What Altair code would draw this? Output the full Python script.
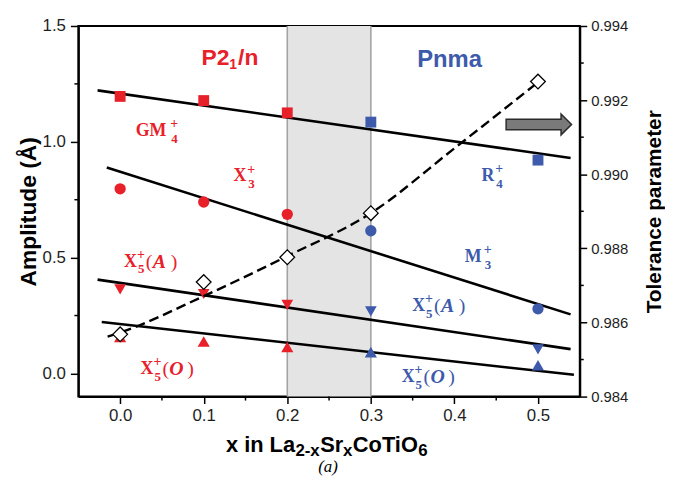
import altair as alt
import pandas as pd

# ---------------- data ----------------
x_comp = [0.0, 0.1, 0.2, 0.3, 0.5]
phase = ["P21/n", "P21/n", "P21/n", "Pnma", "Pnma"]
amp_gm4_r4 = [1.196, 1.178, 1.125, 1.085, 0.921]
amp_x3_m3 = [0.797, 0.740, 0.687, 0.616, 0.279]
amp_x5_a = [0.363, 0.343, 0.296, 0.268, 0.104]
amp_x5_o = [0.157, 0.138, 0.114, 0.092, 0.035]

tol_x = [0.0, 0.1, 0.2, 0.3, 0.5]
tol_val = [0.98568, 0.98709, 0.98776, 0.98895, 0.99250]
tolfit_x = [-0.015, 0.0, 0.1, 0.2, 0.3, 0.4, 0.5]
tolfit_val = [0.98562, 0.98573, 0.98671, 0.98779, 0.98895, 0.99070, 0.99248]

fit_mode = ["GM4/R4", "X3/M3", "X5(A)", "X5(O)"]
fit_x_start = [-0.027, -0.016, -0.027, -0.022]
fit_x_end = [0.539, 0.539, 0.539, 0.543]
fit_amp_start = [1.222, 0.889, 0.405, 0.222]
fit_amp_end = [0.930, 0.255, 0.105, -0.006]

shade_x = [0.2, 0.3]

x_major = [0.0, 0.1, 0.2, 0.3, 0.4, 0.5]
x_minor = [0.05, 0.15, 0.25, 0.35, 0.45]
amp_major = [0.0, 0.5, 1.0, 1.5]
amp_minor = [0.25, 0.75, 1.25]
tol_major = [0.984, 0.986, 0.988, 0.990, 0.992, 0.994]
tol_minor = [0.985, 0.987, 0.989, 0.991, 0.993]

modes = ["GM4/R4", "X3/M3", "X5(A)", "X5(O)"]

# ---------------- styles ----------------
RED = "#e8202a"
BLUE = "#3d5aab"
SANS = "Liberation Sans"
SERIF = "Liberation Serif"
TXT = "#1e1e1e"
W, H = 506, 374

x_scale = alt.Scale(domain=[-0.05, 0.55], nice=False, zero=False)
amp_scale = alt.Scale(domain=[-0.1, 1.5], nice=False, zero=False)
tol_scale = alt.Scale(domain=[0.984, 0.994], nice=False, zero=False)

x_axis = alt.Axis(
    orient="bottom", values=x_major, format=".1f", title=None, grid=False,
    tickSize=7, labelFontSize=17, labelFont=SANS, labelColor=TXT, labelPadding=4,
    tickColor="black", tickWidth=1.5, domainColor="black", domainWidth=2,
)
amp_axis = alt.Axis(
    orient="left", values=amp_major, format=".1f", title="Amplitude (Å)", grid=False,
    tickSize=8, labelFontSize=17, labelFont=SANS, labelColor=TXT, labelPadding=5,
    tickColor="black", tickWidth=1.5, domainColor="black", domainWidth=2,
    titleFont=SANS, titleFontSize=23, titleFontWeight="bold", titleColor="black",
    titlePadding=2,
)
tol_axis = alt.Axis(
    orient="right", values=tol_major, format=".3f", title="Tolerance parameter", grid=False,
    tickSize=7, labelFontSize=15, labelFont=SANS, labelColor=TXT, labelPadding=4,
    tickColor="black", tickWidth=1.5, domainColor="black", domainWidth=2,
    titleFont=SANS, titleFontSize=21, titleFontWeight="bold", titleColor="black",
    titleAngle=270, titleBaseline="top", titlePadding=16,
)


def X(field):
    return alt.X(field, scale=x_scale, axis=x_axis)


def XD(v):
    return alt.XDatum(v, scale=x_scale, axis=x_axis)


def YA(field):
    return alt.Y(field, scale=amp_scale, axis=amp_axis)


def YAD(v):
    return alt.YDatum(v, scale=amp_scale, axis=amp_axis)


def YT(field):
    return alt.Y(field, scale=tol_scale, axis=tol_axis)


# ---------------- tables ----------------
rows = []
for vals, m in zip([amp_gm4_r4, amp_x3_m3, amp_x5_a, amp_x5_o], modes):
    for xv, a, ph in zip(x_comp, vals, phase):
        rows.append({"x": xv, "amp": a, "mode": m, "phase": ph})
df_pts = pd.DataFrame(rows)

df_fit = pd.DataFrame({"mode": fit_mode, "x0": fit_x_start, "x1": fit_x_end,
                       "a0": fit_amp_start, "a1": fit_amp_end})
df_tol = pd.DataFrame({"x": tol_x, "tol": tol_val})
df_tolfit = pd.DataFrame({"x": tolfit_x, "tol": tolfit_val})
df_shade = pd.DataFrame({"x": [shade_x[0]], "x2": [shade_x[1]]})
df_edges = pd.DataFrame({"x": shade_x})
one = pd.DataFrame({"k": [0]})

# ---------------- layers ----------------
points = alt.Chart(df_pts).mark_point(filled=True, opacity=1, strokeWidth=0).encode(
    x=X("x:Q"),
    y=YA("amp:Q"),
    shape=alt.Shape("mode:N", scale=alt.Scale(domain=modes,
                    range=["square", "circle", "triangle-down", "triangle-up"]), legend=None),
    size=alt.Size("mode:N", scale=alt.Scale(domain=modes, range=[120, 150, 190, 190]), legend=None),
    color=alt.Color("phase:N", scale=alt.Scale(domain=["P21/n", "Pnma"], range=[RED, BLUE]), legend=None),
)
shade = alt.Chart(df_shade).mark_rect(color="#e4e4e4").encode(
    x=X("x:Q"), x2="x2:Q", y=YAD(-0.1), y2=alt.Y2Datum(1.5),
)
edges = alt.Chart(df_edges).mark_rule(color="#a3a3a3", strokeWidth=1.6).encode(x=X("x:Q"))
fits = alt.Chart(df_fit).mark_rule(color="black", strokeWidth=2.6).encode(
    x=X("x0:Q"), x2="x1:Q", y=YA("a0:Q"), y2="a1:Q",
)

# minor ticks
x_minor_ticks = alt.Chart(pd.DataFrame({"x": x_minor})).mark_rule(
    color="black", strokeWidth=1.5).encode(x=X("x:Q"), y=alt.value(H), y2=alt.value(H + 4))
amp_minor_ticks = alt.Chart(pd.DataFrame({"amp": amp_minor})).mark_rule(
    color="black", strokeWidth=1.5).encode(y=YA("amp:Q"), x=alt.value(0), x2=alt.value(-4))


def seg(text, ax, ay, dx=0, dy=0, size=18, color=RED, font=SERIF, weight="bold", style="normal"):
    return alt.Chart(one).mark_text(
        text=text, align="left", baseline="middle", dx=dx, dy=dy, fontSize=size,
        font=font, fontWeight=weight, fontStyle=style, color=color,
    ).encode(x=XD(ax), y=YAD(ay))


def mode_label(main, sub, ax, ay, color, sdx, paren=None):
    parts = [seg(main, ax, ay, color=color),
             seg("+", ax, ay, dx=sdx, dy=-7, size=14, color=color),
             seg(sub, ax, ay, dx=sdx + 1, dy=8, size=13, color=color)]
    if paren:
        parts += [seg("(", ax, ay, dx=22, size=20, color=color, weight="normal"),
                  seg(paren, ax, ay, dx=29, size=20, color=color, style="italic"),
                  seg(")", ax, ay, dx=47, size=20, color=color, weight="normal")]
    return parts


labels = []
labels += mode_label("GM", "4", 0.0186, 1.046, RED, 35)
labels += mode_label("X", "3", 0.1356, 0.850, RED, 14)
labels += mode_label("R", "4", 0.4323, 0.854, BLUE, 14)
labels += mode_label("M", "3", 0.4125, 0.504, BLUE, 19)
labels += mode_label("X", "5", 0.0047, 0.483, RED, 13, paren="A")
labels += mode_label("X", "5", 0.0245, 0.020, RED, 13, paren="O")
labels += mode_label("X", "5", 0.3495, 0.290, BLUE, 13, paren="A")
labels += mode_label("X", "5", 0.3369, -0.015, BLUE, 13, paren="O")

# phase names
labels += [seg("P2", 0.0973, 1.360, size=23, font=SANS, color=RED),
           seg("1", 0.0973, 1.360, dx=28, dy=7, size=14, font=SANS, color=RED),
           seg("/n", 0.0973, 1.360, dx=37, size=23, font=SANS, color=RED),
           seg("Pnma", 0.3554, 1.354, size=24, font=SANS, color=BLUE)]

arrow = alt.Chart(one).mark_point(
    shape="M-1,-0.16L0.68,-0.16L0.68,-0.32L1,0L0.68,0.32L0.68,0.16L-1,0.16Z",
    size=4356, filled=True, fill="#7a7a7a", stroke="#2b2b2b", strokeWidth=1.5, opacity=1,
).encode(x=XD(0.501), y=YAD(1.075))


# x-axis title with subscripts (pixel positions in plot coordinates)
def tseg(text, px, py, size=22, dy=0, font=SANS, weight="bold", style="normal", align="left"):
    return alt.Chart(one).mark_text(
        text=text, align=align, baseline="middle", dy=dy, fontSize=size, font=font,
        fontWeight=weight, fontStyle=style, color="black",
    ).encode(x=alt.value(px), y=alt.value(py))


xtitle = [tseg("x in La", 149, 423),
          tseg("2-x", 219, 423, size=17, dy=6),
          tseg("Sr", 244, 423),
          tseg("x", 267, 423, size=17, dy=6),
          tseg("CoTiO", 277, 423),
          tseg("6", 343, 423, size=17, dy=6),
          tseg("(a)", 252, 445, size=17, font=SERIF, weight="normal", style="italic", align="center")]

amp_layer = alt.layer(shade, edges, fits, points, arrow, x_minor_ticks, amp_minor_ticks,
                      *labels, *xtitle)

tol_line = alt.Chart(df_tolfit).mark_line(
    color="black", strokeWidth=2.4, strokeDash=[10, 5], interpolate="monotone"
).encode(x=X("x:Q"), y=YT("tol:Q"))
tol_pts = alt.Chart(df_tol).mark_point(
    shape="diamond", filled=True, fill="white", stroke="black", strokeWidth=1.3, size=220, opacity=1
).encode(x=X("x:Q"), y=YT("tol:Q"))
tol_minor_ticks = alt.Chart(pd.DataFrame({"tol": tol_minor})).mark_rule(
    color="black", strokeWidth=1.5).encode(y=YT("tol:Q"), x=alt.value(W), x2=alt.value(W + 4))
tol_layer = alt.layer(tol_line, tol_pts, tol_minor_ticks)

chart = alt.layer(amp_layer, tol_layer).resolve_scale(y="independent").properties(
    width=W, height=H,
    autosize=alt.AutoSizeParams(type="none"),
    padding={"left": 71, "top": 16, "right": 86, "bottom": 80},
).configure(background="white").configure_view(stroke="black", strokeWidth=2)

chart.save("out.html", embed_options={"renderer": "svg", "actions": False})
